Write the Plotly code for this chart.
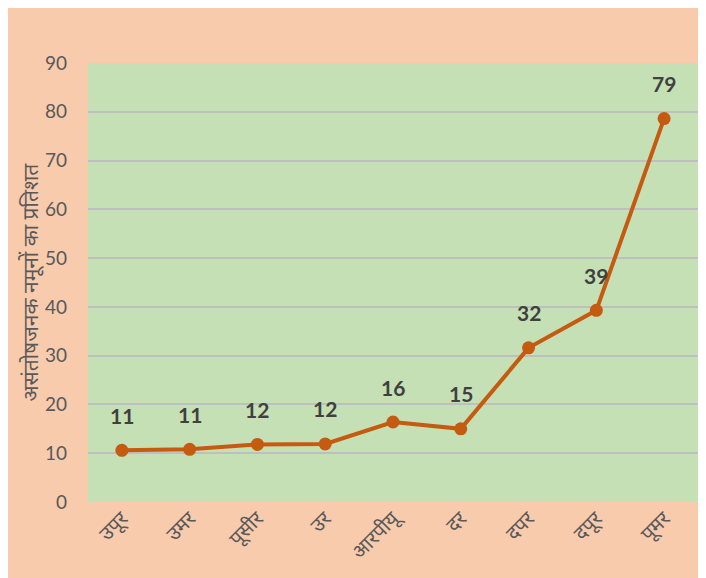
import plotly.graph_objects as go

categories = ["उपूर", "उमर", "पूसीर", "उर", "आरपीयू", "दर", "दपर", "दपूर", "पूमर"]
values = [10.6, 10.8, 11.8, 11.9, 16.4, 15.0, 31.6, 39.3, 78.6]
labels = ["11", "11", "12", "12", "16", "15", "32", "39", "79"]
y_title = "असंतोषजनक नमूनों का प्रतिशत"
y_ticks = [0, 10, 20, 30, 40, 50, 60, 70, 80, 90]

LINE = "#C55A11"
FONT = "Lato, 'Noto Sans', 'Noto Sans Devanagari', sans-serif"

fig = go.Figure()
fig.add_trace(go.Scatter(
    x=categories, y=values, mode="lines+markers",
    line=dict(color=LINE, width=4),
    marker=dict(color=LINE, size=13),
    hoverinfo="skip", showlegend=False,
))

for c, v, t in zip(categories, values, labels):
    fig.add_annotation(x=c, y=v, text="<b>%s</b>" % t, showarrow=False,
                       yshift=35, font=dict(size=21, color="#404040", family=FONT))

fig.add_annotation(xref="paper", yref="paper", x=-0.095, y=0.5, text=y_title,
                   textangle=-90, showarrow=False, xanchor="center", yanchor="middle",
                   font=dict(size=21, color="#595959", family=FONT))

fig.update_layout(
    width=706, height=578,
    margin=dict(l=80, r=16, t=55, b=84),
    paper_bgcolor="#F8CBAD", plot_bgcolor="#C5E0B4",
    font=dict(family=FONT, color="#595959"),
)
fig.update_xaxes(type="category", range=[-0.5, 8.5], tickangle=-45,
                 tickfont=dict(size=20, color="#595959"), showgrid=False,
                 showline=False, ticks="")
fig.update_yaxes(range=[0, 90], tickvals=y_ticks, showgrid=True,
                 gridcolor="#BFBFBF", gridwidth=1.5, zeroline=False,
                 tickfont=dict(size=19, color="#595959"), ticks="",
                 ticklabelstandoff=20)

fig.write_html("out.html")
